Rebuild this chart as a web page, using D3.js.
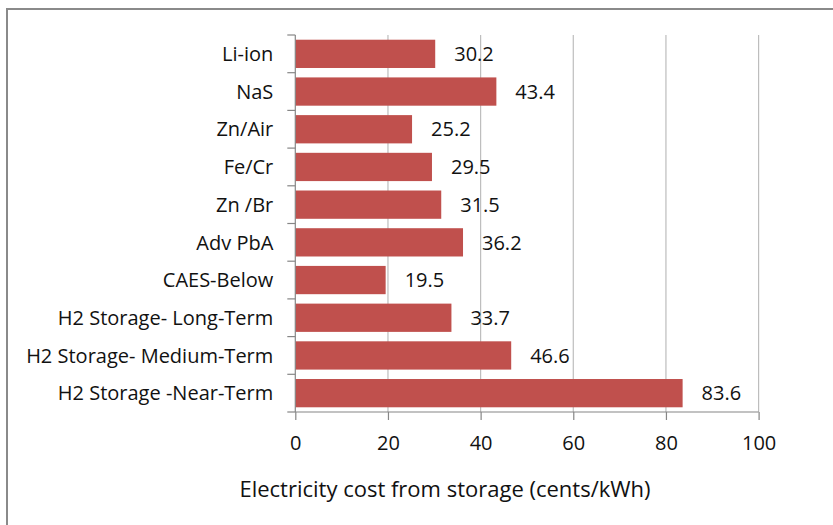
<!DOCTYPE html>
<html>
<head>
<meta charset="utf-8">
<script src="https://cdn.jsdelivr.net/npm/d3@7"></script>
<style>
  html, body { margin: 0; padding: 0; background: #fff; }
  svg { display: block; font-family: "Open Sans", sans-serif; }
</style>
</head>
<body>
<svg id="chart" width="833" height="525"></svg>
<script>
// Storage technologies, top to bottom
const categories = [
  "Li-ion", "NaS", "Zn/Air", "Fe/Cr", "Zn /Br", "Adv PbA", "CAES-Below",
  "H2 Storage- Long-Term", "H2 Storage- Medium-Term", "H2 Storage -Near-Term"
];
// Electricity cost from storage, cents/kWh
const costs = [30.2, 43.4, 25.2, 29.5, 31.5, 36.2, 19.5, 33.7, 46.6, 83.6];
const xTicks = [0, 20, 40, 60, 80, 100];
const xTitle = "Electricity cost from storage (cents/kWh)";

const svg = d3.select("#chart");
const plot = { left: 295.3, right: 758.6, top: 35, bottom: 412 };
const ink = "#111";

// outer chart frame
svg.append("rect")
  .attr("x", 7).attr("y", 9).attr("width", 900).attr("height", 600)
  .attr("fill", "none").attr("stroke", "#8a8a8a").attr("stroke-width", 2);

const x = d3.scaleLinear().domain([0, 100]).range([plot.left, plot.right]);
const y = d3.scaleBand().domain(categories).range([plot.top, plot.bottom])
  .paddingInner(0.25).paddingOuter(0.125);

// vertical gridlines
svg.append("g").selectAll("line")
  .data(xTicks.filter(d => d > 0))
  .join("line")
  .attr("x1", d => x(d)).attr("x2", d => x(d))
  .attr("y1", plot.top).attr("y2", plot.bottom)
  .attr("stroke", "#bdbdbd").attr("stroke-width", 1.2);

// bars
svg.append("g").selectAll("rect")
  .data(costs)
  .join("rect")
  .attr("x", x(0))
  .attr("y", (d, i) => y(categories[i]))
  .attr("width", d => x(d) - x(0))
  .attr("height", y.bandwidth())
  .attr("fill", "#c0504d");

// value labels
svg.append("g").selectAll("text")
  .data(costs)
  .join("text")
  .attr("x", d => x(d) + 19)
  .attr("y", (d, i) => y(categories[i]) + y.bandwidth() / 2)
  .attr("dy", "0.36em")
  .attr("font-size", 20)
  .attr("fill", ink)
  .text(d => d.toFixed(1));

// x axis
const xAxis = svg.append("g")
  .attr("transform", `translate(0,${plot.bottom})`)
  .call(d3.axisBottom(x).tickValues(xTicks).tickSize(8).tickPadding(16).tickFormat(d3.format("d")));
xAxis.select(".domain").attr("stroke", "#868686").attr("stroke-width", 1.2)
  .attr("d", `M${plot.left},0H${plot.right}`);
xAxis.selectAll(".tick line").attr("stroke", "#868686").attr("stroke-width", 1.2);
xAxis.selectAll(".tick text").attr("font-size", 20).attr("fill", ink)
  .attr("font-family", "Open Sans, sans-serif");

// y axis with boundary ticks between categories
const yAxis = svg.append("g").attr("transform", `translate(${plot.left},0)`);
yAxis.append("line")
  .attr("y1", plot.top).attr("y2", plot.bottom)
  .attr("stroke", "#868686").attr("stroke-width", 1.2);
const step = y.step();
yAxis.selectAll("line.bt")
  .data(d3.range(categories.length + 1))
  .join("line").attr("class", "bt")
  .attr("x1", -8).attr("x2", 0)
  .attr("y1", i => plot.top + i * step).attr("y2", i => plot.top + i * step)
  .attr("stroke", "#868686").attr("stroke-width", 1.2);
yAxis.selectAll("text")
  .data(categories)
  .join("text")
  .attr("x", -22)
  .attr("y", d => y(d) + y.bandwidth() / 2)
  .attr("dy", "0.36em")
  .attr("text-anchor", "end")
  .attr("font-size", 20)
  .attr("fill", ink)
  .text(d => d);

// axis title
svg.append("text")
  .attr("x", 445).attr("y", 489).attr("dy", "0.36em")
  .attr("text-anchor", "middle")
  .attr("font-size", 22)
  .attr("fill", ink)
  .text(xTitle);
</script>
</body>
</html>
